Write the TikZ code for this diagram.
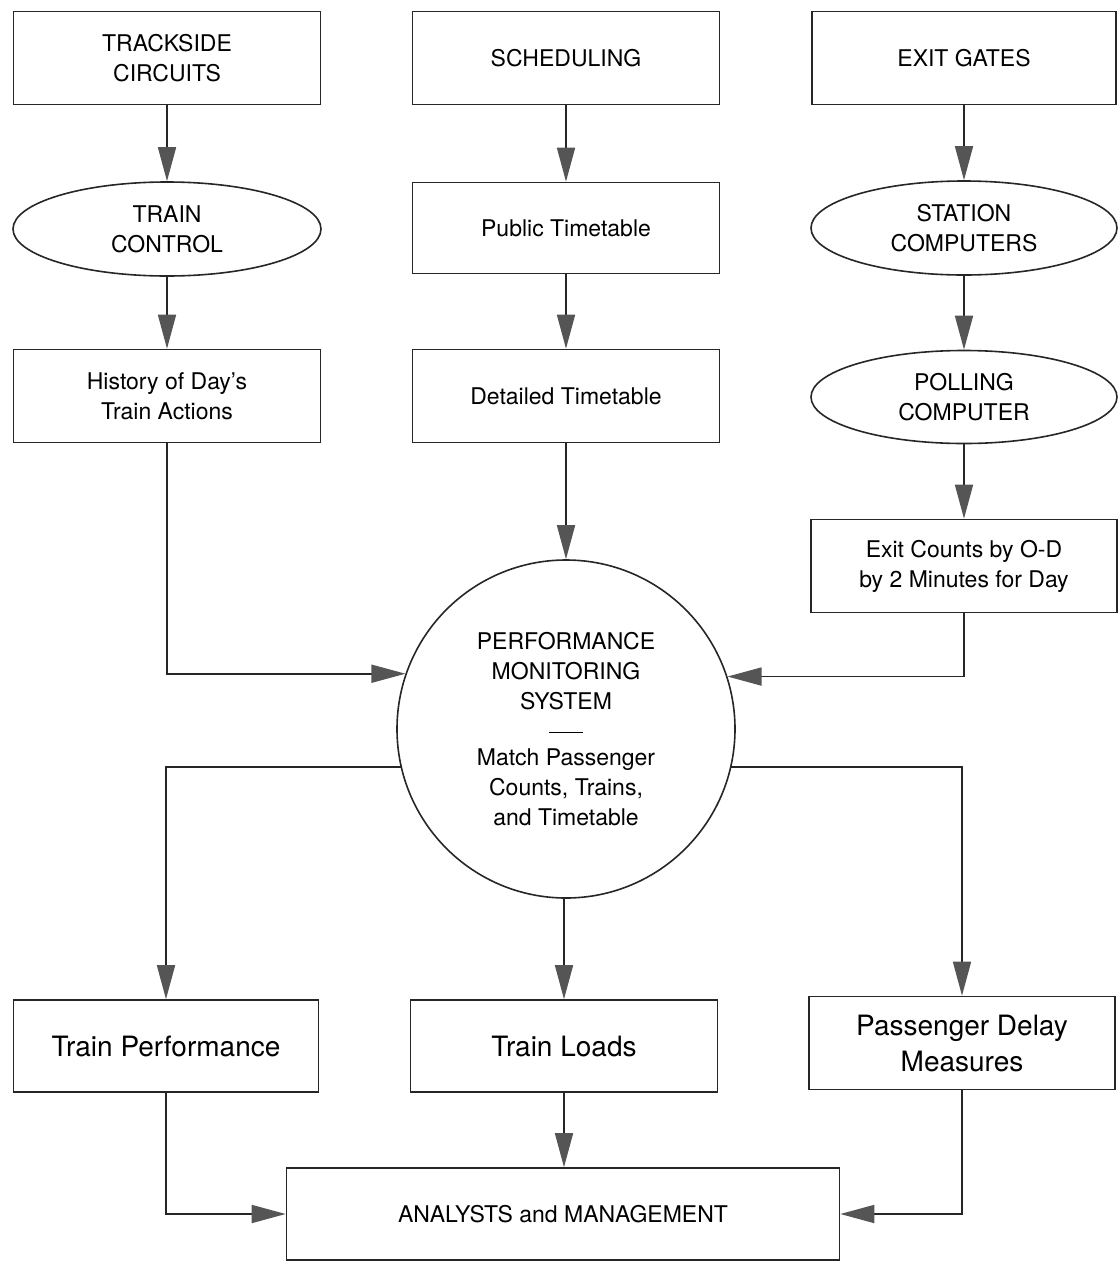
\documentclass[tikz,border=0pt]{standalone}
\usepackage{fontspec}
\setmainfont{TeX Gyre Heros}
\usetikzlibrary{shapes.geometric,arrows.meta}
\definecolor{tipgray}{RGB}{85,85,85}
\begin{document}
\begin{tikzpicture}[x=1pt,y=-1pt,
  every node/.style={font=\fontsize{23}{30}\selectfont, align=center, inner sep=0pt, line width=1.6pt, draw=black!85},
  bx/.style={rectangle, minimum width=307pt, minimum height=93pt},
  ell/.style={ellipse, minimum width=308pt, minimum height=94pt},
  big/.style={font=\fontsize{28}{36}\selectfont},
  conn/.style={line width=1.7pt, draw=black!85, -{Triangle[length=34pt,width=18pt,fill=tipgray,color=tipgray]}},
  plain/.style={line width=1.6pt, draw=black!85}]
\useasboundingbox (0,0) rectangle (1119,1261);
% row 1
\node[bx] (ts) at (167,58) {TRACKSIDE\\CIRCUITS};
\node[bx] (sch) at (566,58) {SCHEDULING};
\node[bx, minimum width=304pt] (eg) at (964,58) {EXIT GATES};
% row 2
\node[ell] (tc) at (167,229) {TRAIN\\CONTROL};
\node[bx, minimum height=91pt] (pt) at (566,228) {Public Timetable};
\node[ell, minimum width=306pt] (sc) at (964,228) {STATION\\COMPUTERS};
% row 3
\node[bx] (hist) at (167,396) {History of Day's\\Train Actions};
\node[bx] (dt) at (566,396) {Detailed Timetable};
\node[ell, minimum width=306pt, minimum height=93pt] (pc) at (964,397) {POLLING\\COMPUTER};
% row 4
\node[bx, minimum width=306pt] (ec) at (964,566) {Exit Counts by O-D\\by 2 Minutes for Day};
% centre
\node[circle, minimum size=338pt] (pms) at (566,729) {PERFORMANCE\\MONITORING\\SYSTEM\\[-6pt]\rule{34pt}{1.3pt}\\[2pt]Match Passenger\\Counts, Trains,\\and Timetable};
% outputs
\node[bx, big, minimum width=305pt, minimum height=92pt] (tp) at (166,1046) {Train Performance};
\node[bx, big, minimum height=92pt] (tl) at (564,1046) {Train Loads};
\node[bx, big, minimum width=306pt] (pd) at (962,1043) {Passenger Delay\\Measures};
\node[rectangle, minimum width=553pt, minimum height=92pt] (am) at (563,1214) {ANALYSTS and MANAGEMENT};
% connectors
\draw[conn] (ts) -- (tc);
\draw[conn] (tc) -- (hist);
\draw[conn] (sch) -- (pt);
\draw[conn] (pt) -- (dt);
\draw[conn] (dt) -- (pms);
\draw[conn] (eg) -- (sc);
\draw[conn] (sc) -- (pc);
\draw[conn] (pc) -- (ec);
\draw[conn] (hist.south) |- (pms.161.4);
\draw[conn] (ec.south) |- (pms.18.6);
\draw[conn] (pms.193) -| (tp.north);
\draw[conn] (pms.south -| tl.north) -- (tl.north);
\draw[conn] (pms.-13) -| (pd.north);
\draw[conn] (tp.south) |- (am.west);
\draw[conn] (tl.south) -- (tl.south |- am.north);
\draw[conn] (pd.south) |- (am.east);
\end{tikzpicture}
\end{document}
